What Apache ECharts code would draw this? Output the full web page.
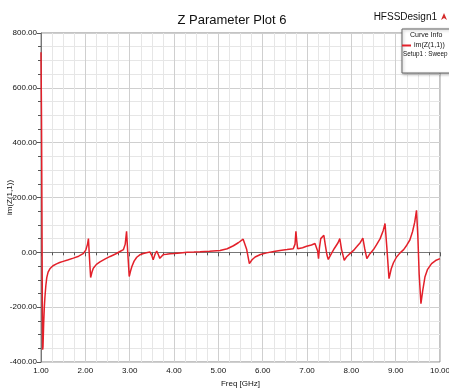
<!DOCTYPE html>
<html>
<head>
<meta charset="utf-8">
<script src="https://cdn.jsdelivr.net/npm/echarts@6/dist/echarts.min.js"></script>
<style>
  html, body { margin: 0; padding: 0; background: #fff; }
  #chart { width: 449px; height: 390px; }
</style>
</head>
<body>
<div id="chart"></div>
<script>
// frequency sweep, GHz
const freq = [
  1.000, 1.012, 1.018, 1.024, 1.030, 1.037, 1.045, 1.06, 1.075, 1.09,
  1.11, 1.13, 1.16, 1.20, 1.27, 1.35, 1.42, 1.50, 1.60, 1.73,
  1.85, 1.95, 2.01, 2.05, 2.07, 2.10, 2.12, 2.15, 2.18, 2.25,
  2.33, 2.45, 2.56, 2.68, 2.78, 2.86, 2.90, 2.93, 2.96, 2.99,
  3.02, 3.05, 3.10, 3.16, 3.23, 3.31, 3.40, 3.46, 3.50, 3.53,
  3.57, 3.61, 3.65, 3.68, 3.72, 3.76, 3.83, 3.91, 4.00, 4.14,
  4.30, 4.45, 4.59, 4.80, 5.04, 5.20, 5.34, 5.45, 5.56, 5.60,
  5.64, 5.70, 5.76, 5.83, 5.95, 6.09, 6.25, 6.39, 6.55, 6.69,
  6.73, 6.75, 6.77, 6.79, 6.90, 6.99, 7.10, 7.18, 7.22, 7.24,
  7.26, 7.28, 7.31, 7.38, 7.42, 7.45, 7.48, 7.55, 7.62, 7.70,
  7.74, 7.78, 7.84, 7.90, 7.98, 8.05, 8.12, 8.20, 8.26, 8.30,
  8.35, 8.42, 8.50, 8.57, 8.65, 8.72, 8.76, 8.80, 8.85, 8.90,
  8.95, 9.02, 9.10, 9.18, 9.25, 9.32, 9.38, 9.43, 9.47, 9.50,
  9.53, 9.57, 9.61, 9.66, 9.72, 9.81, 9.90, 10.00
]

// im(Z(1,1))
const imZ = [
  730, 480, 270, 40, -200, -355, -345, -260, -200, -160,
  -120, -92, -72, -60, -49, -42, -37, -33, -28, -21,
  -14, -5, 8, 30, 50, -40, -92, -72, -58, -44,
  -35, -24, -15, -6, 3, 10, 30, 77, -10, -88,
  -68, -52, -32, -18, -9, -4, -1, 1, -12, -27,
  -8, 5, -10, -22, -15, -8, -7, -5, -4, -2,
  0, 1, 2, 4, 7, 13, 24, 35, 48, 44,
  10, -41, -27, -17, -8, -2, 3, 7, 10, 13,
  30, 77, 40, 13, 17, 22, 27, 32, 34, 5,
  -23, 15, 50, 62, 20, -10, -26, -5, 15, 35,
  50, 10, -29, -15, -3, 7, 20, 35, 52, 15,
  -23, -5, 10, 28, 50, 80, 105, 20, -96, -60,
  -38, -17, -2, 10, 26, 45, 75, 110, 153, 60,
  -80, -187, -140, -90, -62, -41, -30, -23
]

const xRange = [1, 10]
const yRange = [-400, 800]

const font = "'Liberation Sans Narrow', 'Liberation Sans', Arial, sans-serif"
const chart = echarts.init(document.getElementById('chart'))

chart.setOption({
  backgroundColor: '#fff',
  animation: false,
  textStyle: { fontFamily: font },
  title: {
    text: 'Z Parameter Plot 6',
    left: 227,
    top: 9,
    textAlign: 'center',
    textStyle: { fontFamily: font, fontSize: 13, fontWeight: 'normal', color: '#111' }
  },
  grid: {
    left: 41, right: 9, top: 33, bottom: 28,
    outerBoundsMode: 'none',
    containLabel: false,
    show: true, borderColor: '#888', borderWidth: 1
  },
  legend: {
    data: ['im(Z(1,1))'],
    left: 402,
    top: 42,
    z: 20,
    padding: 0,
    itemWidth: 9,
    itemHeight: 2,
    icon: 'rect',
    textStyle: { fontFamily: font, fontSize: 7, color: '#111', padding: [0, 0, 0, -2] }
  },
  xAxis: {
    type: 'value',
    min: xRange[0], max: xRange[1], interval: 1,
    name: 'Freq [GHz]',
    nameLocation: 'middle',
    nameGap: 17,
    nameTextStyle: { fontFamily: font, fontSize: 8, color: '#111' },
    axisLine: { lineStyle: { color: '#777' } },
    axisTick: { show: true, length: 4, lineStyle: { color: '#555' } },
    minorTick: { show: true, splitNumber: 4, length: 3, lineStyle: { color: '#555' } },
    axisLabel: { fontSize: 8, color: '#111', margin: 5, formatter: v => v.toFixed(2) },
    splitLine: { lineStyle: { color: '#cfcfcf' } },
    minorSplitLine: { show: true, lineStyle: { color: '#e6e6e6' } }
  },
  yAxis: {
    type: 'value',
    min: yRange[0], max: yRange[1], interval: 200,
    name: 'im(Z(1,1))',
    nameLocation: 'middle',
    nameGap: 27,
    nameMoveOverlap: false,
    nameTextStyle: { fontFamily: font, fontSize: 8, color: '#111' },
    axisLine: { show: true, lineStyle: { color: '#777' } },
    axisTick: { show: true, length: 4, lineStyle: { color: '#555' } },
    minorTick: { show: true, splitNumber: 4, length: 3, lineStyle: { color: '#555' } },
    axisLabel: { fontSize: 8, color: '#111', margin: 4, formatter: v => v.toFixed(2) },
    splitLine: { lineStyle: { color: '#cfcfcf' } },
    minorSplitLine: { show: true, lineStyle: { color: '#e6e6e6' } }
  },
  series: [{
    name: 'im(Z(1,1))',
    type: 'line',
    data: freq.map((f, i) => [f, imZ[i]]),
    showSymbol: false,
    smooth: false,
    lineStyle: { color: '#e3202a', width: 1.5 },
    itemStyle: { color: '#e3202a' }
  }],
  graphic: [
    {
      type: 'text', right: 12, top: 12, z: 10,
      style: { text: 'HFSSDesign1', fontFamily: font, fontSize: 10, fill: '#111' }
    },
    {
      type: 'polygon', z: 10,
      shape: { points: [[441, 20], [444, 13], [447, 20], [444, 18]] },
      style: { fill: '#d42a2a' }
    },
    {
      type: 'rect', z: 9,
      shape: { x: 402, y: 29, width: 52, height: 44 },
      style: { fill: '#fff', stroke: '#666', lineWidth: 1, shadowColor: 'rgba(0,0,0,0.3)', shadowBlur: 3, shadowOffsetX: 1, shadowOffsetY: 1 }
    },
    {
      type: 'text', left: 410, top: 32, z: 10,
      style: { text: 'Curve Info', fontFamily: font, fontSize: 7, fill: '#111' }
    },
    {
      type: 'text', left: 403, top: 51, z: 10,
      style: { text: 'Setup1 : Sweep', fontFamily: font, fontSize: 6.3, fill: '#111' }
    }
  ]
})
</script>
</body>
</html>
